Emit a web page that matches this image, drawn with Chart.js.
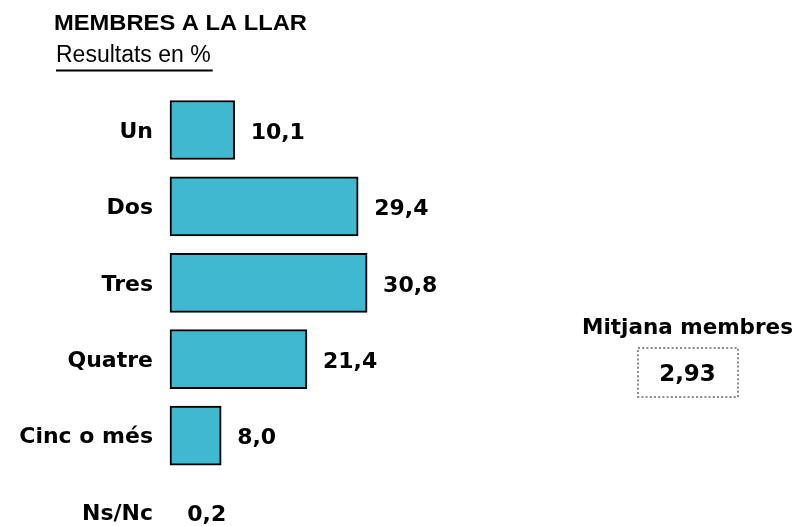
<!DOCTYPE html>
<html>
<head>
<meta charset="utf-8">
<script src="https://cdn.jsdelivr.net/npm/chart.js@4/dist/chart.umd.min.js"></script>
<style>
  html, body { margin: 0; padding: 0; background: #ffffff; overflow: hidden; }
  #wrap { position: relative; width: 798px; height: 526px; }
</style>
</head>
<body>
<div id="wrap"><canvas id="c" width="798" height="526"></canvas></div>
<script>
// ---- data ----
const titleText = 'MEMBRES A LA LLAR';
const subtitleText = 'Resultats en %';
const categories = ['Un', 'Dos', 'Tres', 'Quatre', 'Cinc o més', 'Ns/Nc'];
const values = [10.1, 29.4, 30.8, 21.4, 8.0, 0.2];
const meanLabel = 'Mitjana membres';
const meanValue = 2.93;

const fmt = (v, d) => v.toFixed(d).replace('.', ',');
const LABEL_FONT = 'bold 22px "DejaVu Sans"';

const extrasPlugin = {
  id: 'extras',
  afterDatasetsDraw(chart) {
    const ctx = chart.ctx;
    // value labels
    const meta = chart.getDatasetMeta(0);
    ctx.save();
    ctx.font = LABEL_FONT;
    ctx.fillStyle = '#000';
    ctx.textAlign = 'left';
    ctx.textBaseline = 'middle';
    meta.data.forEach((bar, i) => {
      ctx.fillText(fmt(values[i], 1), bar.x + 16, bar.y + 3);
    });
    ctx.restore();

    // title
    ctx.save();
    ctx.fillStyle = '#000';
    ctx.textAlign = 'left';
    ctx.textBaseline = 'alphabetic';
    ctx.font = 'bold 22px "Liberation Sans", Arial, sans-serif';
    const tw = ctx.measureText(titleText).width;
    ctx.save();
    ctx.translate(54, 29.5);
    ctx.scale(253 / tw, 1);
    ctx.fillText(titleText, 0, 0);
    ctx.restore();
    ctx.font = '23px "Liberation Sans", Arial, sans-serif';
    ctx.fillText(subtitleText, 56, 62);
    const w = ctx.measureText(subtitleText).width;
    ctx.fillRect(56, 69.5, w + 2, 2);

    // mean box
    const cx = 687.5;
    ctx.textAlign = 'center';
    ctx.font = 'bold 21.5px "DejaVu Sans"';
    ctx.fillText(meanLabel, cx, 334);
    ctx.setLineDash([2, 2.2]);
    ctx.strokeStyle = '#8c8c8c';
    ctx.lineWidth = 2;
    ctx.strokeRect(638, 348, 100, 49);
    ctx.setLineDash([]);
    ctx.font = 'bold 23px "DejaVu Sans"';
    ctx.fillText(fmt(meanValue, 2), cx, 381);
    ctx.restore();
  }
};

new Chart(document.getElementById('c'), {
  type: 'bar',
  data: {
    labels: categories,
    datasets: [{
      data: values,
      backgroundColor: (c) => (c.raw !== undefined && c.raw < 1) ? 'rgba(0,0,0,0)' : '#40B8CF',
      borderColor: '#000000',
      borderWidth: (c) => (c.raw !== undefined && c.raw < 1) ? 0 : 2,
      borderSkipped: false,
      barThickness: 59,
      clip: false
    }]
  },
  options: {
    indexAxis: 'y',
    responsive: false,
    animation: false,
    events: [],
    layout: { padding: { top: 130, bottom: 14, left: 0, right: 308 } },
    plugins: {
      legend: { display: false },
      tooltip: { enabled: false },
      title: { display: false }
    },
    scales: {
      x: {
        display: false,
        min: 0,
        max: 50
      },
      y: {
        offset: false,
        grid: { display: false, drawTicks: false },
        border: { display: false },
        ticks: {
          color: '#000',
          font: { family: 'DejaVu Sans', size: 22, weight: 'bold' },
          padding: 17,
          labelOffset: 2
        },
        afterFit(scale) {
          scale.width = 170;
          scale.paddingTop = 0;
          scale.paddingBottom = 0;
        }
      }
    }
  },
  plugins: [extrasPlugin]
});
</script>
</body>
</html>
